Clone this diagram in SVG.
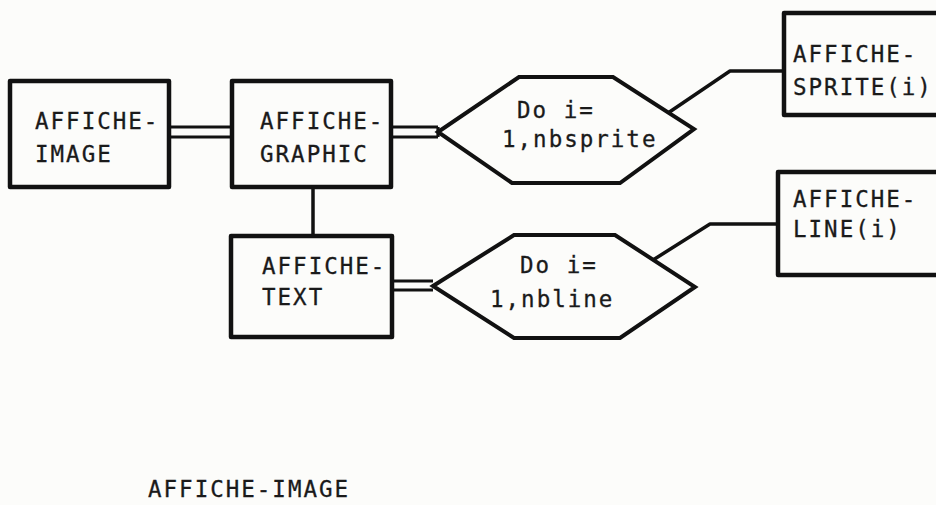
<svg xmlns="http://www.w3.org/2000/svg" width="936" height="505" viewBox="0 0 936 505">
<style>
.box{fill:none;stroke:#111;stroke-width:4.5;stroke-linejoin:round}
.hex{fill:none;stroke:#111;stroke-width:4;stroke-linejoin:miter}
.ln{fill:none;stroke:#111;stroke-width:3.5;stroke-linejoin:round}
.dl{fill:none;stroke:#111;stroke-width:3.2}
text{font-family:"DejaVu Sans Mono","Liberation Mono",monospace;font-size:22.5px;letter-spacing:2px;fill:#1a1a1a;stroke:#1a1a1a;stroke-width:0.3}
</style>
<rect width="936" height="505" fill="#fcfcfa"/>
<g id="connectors">
<path class="dl" d="M169 127H232M169 137H232"/>
<path class="dl" d="M391 127H438M391 137H438M438 127V137"/>
<path class="ln" d="M313 187V236"/>
<path class="dl" d="M392 281H433M392 290H433"/>
<path class="ln" d="M668 113L730 71H784"/>
<path class="ln" d="M653 260L710 224H778"/>
</g>
<g id="affiche-image">
<rect class="box" x="10" y="81" width="159" height="106"/>
<text x="35" y="129">AFFICHE-</text>
<text x="35" y="162">IMAGE</text>
</g>
<g id="affiche-graphic">
<rect class="box" x="232" y="81" width="159" height="106"/>
<text x="260" y="129">AFFICHE-</text>
<text x="260" y="162">GRAPHIC</text>
</g>
<g id="affiche-text">
<rect class="box" x="231" y="236" width="161" height="101"/>
<text x="262" y="274">AFFICHE-</text>
<text x="262" y="305">TEXT</text>
</g>
<g id="do-sprite">
<polygon class="hex" points="438,132 519,77 613,77 694,129 620,183 512,183"/>
<text x="517" y="118">Do i=</text>
<text x="502" y="147">1,nbsprite</text>
</g>
<g id="do-line">
<polygon class="hex" points="433,286 514,235 615,235 695,287 620,338 514,338"/>
<text x="520" y="273">Do i=</text>
<text x="490" y="307">1,nbline</text>
</g>
<g id="affiche-sprite">
<rect class="box" x="784" y="13" width="180" height="102"/>
<text x="793" y="62">AFFICHE-</text>
<text x="793" y="95">SPRITE(i)</text>
</g>
<g id="affiche-line">
<rect class="box" x="778" y="172" width="180" height="103"/>
<text x="793" y="207">AFFICHE-</text>
<text x="793" y="237">LINE(i)</text>
</g>
<text x="148" y="497">AFFICHE-IMAGE</text>
</svg>
